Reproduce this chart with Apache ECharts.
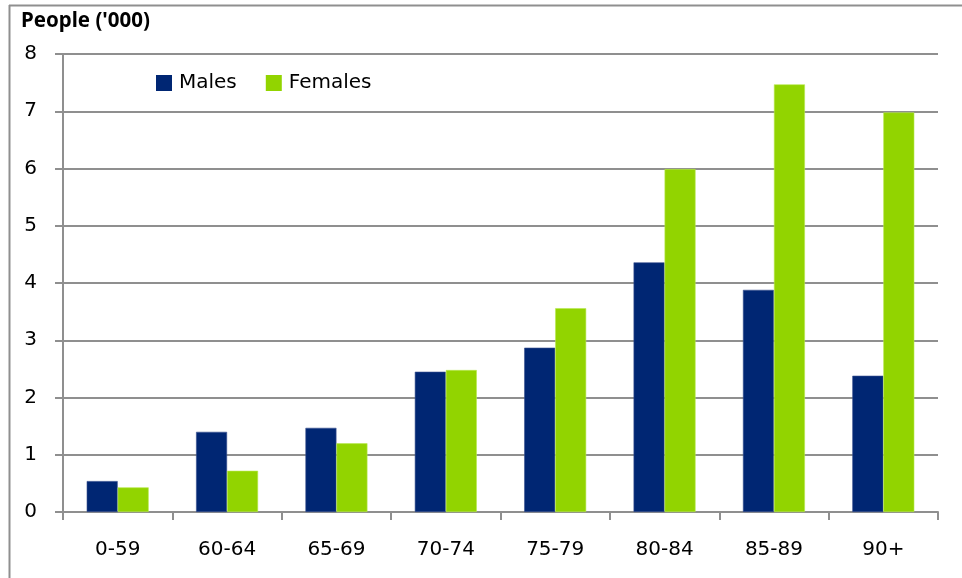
<!DOCTYPE html>
<html>
<head>
<meta charset="utf-8">
<style>
  html, body { margin: 0; padding: 0; background: #ffffff; }
  #chart { width: 962px; height: 578px; }
</style>
<script src="https://cdn.jsdelivr.net/npm/echarts@6/dist/echarts.min.js"></script>
</head>
<body>
<div id="chart"></div>
<script>
// Age bands and head counts (thousands)
const ageGroups = ['0-59', '60-64', '65-69', '70-74', '75-79', '80-84', '85-89', '90+'];
const males   = [0.54, 1.40, 1.47, 2.45, 2.87, 4.36, 3.88, 2.38];
const females = [0.43, 0.72, 1.20, 2.48, 3.56, 5.99, 7.47, 6.98];
const yTicks  = [0, 1, 2, 3, 4, 5, 6, 7, 8];

const FONT = '"DejaVu Sans", "Noto Sans", sans-serif';
const TITLE_FONT = '"Noto Sans", "Open Sans", sans-serif';
const GRID_COLOR = '#8f8f8f';

const chart = echarts.init(document.getElementById('chart'), null, { renderer: 'canvas' });

chart.setOption({
  animation: false,
  backgroundColor: '#ffffff',
  textStyle: { fontFamily: FONT },
  graphic: [
    // outer frame: top and left edges
    { type: 'line', shape: { x1: 9, y1: 5.5, x2: 962, y2: 5.5 },
      style: { stroke: GRID_COLOR, lineWidth: 2 } },
    { type: 'line', shape: { x1: 9.5, y1: 5, x2: 9.5, y2: 578 },
      style: { stroke: GRID_COLOR, lineWidth: 2 } },
    { type: 'text', left: 21, top: 11,
      style: { text: "People ('000)", fontFamily: TITLE_FONT, fontWeight: 'bold',
               fontSize: 20.5, fill: '#000000' } }
  ],
  legend: {
    left: 151, top: 68,
    itemWidth: 16, itemHeight: 16, itemGap: 29,
    icon: 'rect',
    itemStyle: { borderWidth: 0 },
    textStyle: { fontFamily: FONT, fontSize: 20, color: '#000000',
                 lineHeight: 16, padding: [0, 0, 0, 2] },
    data: ['Males', 'Females']
  },
  grid: { left: 63, right: 24, top: 54, bottom: 66, containLabel: false },
  xAxis: {
    type: 'category',
    data: ageGroups,
    axisLine: { lineStyle: { color: GRID_COLOR, width: 2 } },
    axisTick: { show: true, length: 8, alignWithLabel: false,
                lineStyle: { color: GRID_COLOR, width: 2 } },
    axisLabel: { fontFamily: FONT, fontSize: 20, color: '#000000', margin: 28 }
  },
  yAxis: {
    type: 'value',
    min: yTicks[0], max: yTicks[yTicks.length - 1], interval: 1,
    axisLine: { show: true, lineStyle: { color: GRID_COLOR, width: 2 } },
    axisTick: { show: true, length: 8, lineStyle: { color: GRID_COLOR, width: 2 } },
    splitLine: { show: true, lineStyle: { color: GRID_COLOR, width: 2 } },
    axisLabel: { fontFamily: FONT, fontSize: 20, color: '#000000', margin: 26,
                 formatter: v => String(v) }
  },
  series: [
    {
      name: 'Males', type: 'bar', data: males,
      barWidth: 31, barGap: '0%',
      itemStyle: { color: '#002673', borderColor: '#3a5290', borderWidth: 0.6 }
    },
    {
      name: 'Females', type: 'bar', data: females,
      barWidth: 31, barGap: '0%',
      itemStyle: { color: '#92d400', borderColor: '#b8ea50', borderWidth: 0.6 }
    }
  ]
});
</script>
</body>
</html>
